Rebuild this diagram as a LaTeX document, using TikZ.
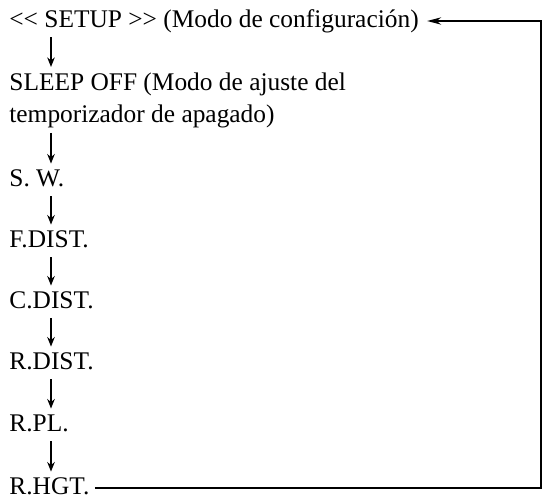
\documentclass[tikz,border=0pt]{standalone}
\usepackage{fontspec}
\setmainfont{Liberation Serif}[Ligatures=TeXOff]
\usetikzlibrary{arrows.meta, calc}

\begin{document}
\begin{tikzpicture}[x=0.5pt, y=-0.5pt,
    item/.style={anchor=base west, inner sep=0pt,
      font=\fontsize{12.7}{16}\selectfont},
    entry/.style={item, text height=8.5pt, text depth=2.5pt},
    down/.style={-{Stealth[length=4.8pt,width=3.8pt]}, line width=0.7pt,
      shorten <=2.5pt, shorten >=2.5pt},
    back/.style={-{Stealth[length=7pt,width=3.6pt]}, line width=1pt,
      shorten <=2.5pt, shorten >=4pt}]

  \useasboundingbox (0,0) rectangle (545,498);
  \coordinate (col) at (51,0);
  \coordinate (loop) at (541,0);

  \node[entry] (setup) at (9,27) {<< SETUP >> (Modo de configuración)};
  \node[item, align=left] (sleep) at (9,122)
    {SLEEP OFF (Modo de ajuste del\\temporizador de apagado)};
  \node[entry] (sw) at (9,186) {S. W.};
  \node[entry] (fdist) at (9,247) {F.DIST.};
  \node[entry] (cdist) at (9,308) {C.DIST.};
  \node[entry] (rdist) at (9,369) {R.DIST.};
  \node[entry] (rpl) at (9,431) {R.PL.};
  \node[entry] (rhgt) at (9,494) {R.HGT.};

  % the steps, one after the other
  \draw[down] (setup.south -| col) -- (sleep.north -| col);
  \draw[down] (sleep.south -| col) -- (sw.north -| col);
  \draw[down] (sw.south -| col) -- (fdist.north -| col);
  \draw[down] (fdist.south -| col) -- (cdist.north -| col);
  \draw[down] (cdist.south -| col) -- (rdist.north -| col);
  \draw[down] (rdist.south -| col) -- (rpl.north -| col);
  \draw[down] (rpl.south -| col) -- (rhgt.north -| col);

  % back to the start
  \draw[back] (rhgt.east) -- (rhgt.east -| loop) -- (setup.east -| loop)
    -- (setup.east);
\end{tikzpicture}
\end{document}
